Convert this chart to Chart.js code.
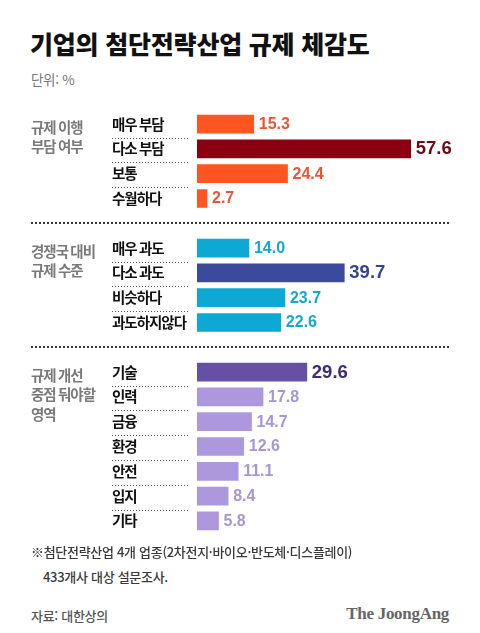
<!DOCTYPE html>
<html lang="ko">
<head>
<meta charset="utf-8">
<script src="https://cdn.jsdelivr.net/npm/chart.js@4"></script>
<style>
  html,body{margin:0;padding:0;background:#fff;}
  body{width:480px;height:633px;position:relative;overflow:hidden;font-family:"Noto Sans CJK KR","Noto Sans",sans-serif;}
  .t{position:absolute;white-space:nowrap;}
  #title{left:30px;top:27px;font-size:25px;line-height:32px;font-weight:900;color:#111;letter-spacing:-0.2px;}
  #unit{left:31px;top:70px;font-size:13.5px;line-height:18px;color:#777;letter-spacing:-0.3px;}
  #note1{left:31px;top:543px;font-size:13px;line-height:18px;color:#3a3a3a;letter-spacing:-0.3px;font-weight:500;}
  #note2{left:43px;top:568px;font-size:13px;line-height:18px;color:#3a3a3a;letter-spacing:-0.3px;font-weight:500;}
  #src{left:31px;top:607px;font-size:13px;line-height:18px;color:#555;letter-spacing:-0.3px;font-weight:500;}
  #logo{right:31px;top:604px;font-family:"Liberation Serif","DejaVu Serif",serif;font-weight:bold;font-size:17px;line-height:20px;color:#666;letter-spacing:-0.3px;}
  #wrap{position:absolute;left:0;top:100px;width:480px;height:445px;}
</style>
</head>
<body>
<div class="t" id="title">기업의 첨단전략산업 규제 체감도</div>
<div class="t" id="unit">단위: %</div>
<div id="wrap"><canvas id="c" width="480" height="445"></canvas></div>
<div class="t" id="note1">※첨단전략산업 4개 업종(2차전지·바이오·반도체·디스플레이)</div>
<div class="t" id="note2">433개사 대상 설문조사.</div>
<div class="t" id="src">자료: 대한상의</div>
<div class="t" id="logo">The JoongAng</div>
<script>
// ---- data ----
const burdenLabels = ['매우 부담', '다소 부담', '보통', '수월하다'];
const burdenValues = [15.3, 57.6, 24.4, 2.7];
const compareLabels = ['매우 과도', '다소 과도', '비슷하다', '과도하지않다'];
const compareValues = [14.0, 39.7, 23.7, 22.6];
const focusLabels = ['기술', '인력', '금융', '환경', '안전', '입지', '기타'];
const focusValues = [29.6, 17.8, 14.7, 12.6, 11.1, 8.4, 5.8];
const groupTitles = [['규제 이행', '부담 여부'], ['경쟁국 대비', '규제 수준'], ['규제 개선', '중점 둬야할', '영역']];
const highlightIndex = [1, 1, 0];

// ---- styles ----
const barColors = [
  {normal: '#ff5520', high: '#8a0010'},
  {normal: '#0ea8d4', high: '#3b4a9b'},
  {normal: '#ad98de', high: '#6650a6'}
];
const textColors = [
  {normal: '#ea5632', high: '#6e0a16'},
  {normal: '#17a6d0', high: '#34458f'},
  {normal: '#a796d6', high: '#3f2b78'}
];

// ---- build combined rows (with spacer rows between groups) ----
const groups = [
  {labels: burdenLabels, values: burdenValues},
  {labels: compareLabels, values: compareValues},
  {labels: focusLabels, values: focusValues}
];
const labels = [], values = [], bgColors = [], txtColors = [], isHigh = [], groupStart = [], gapRows = [];
groups.forEach((g, gi) => {
  if (gi > 0) { gapRows.push(labels.length); labels.push(''); values.push(null); bgColors.push('rgba(0,0,0,0)'); txtColors.push(null); isHigh.push(false); }
  groupStart.push(labels.length);
  g.labels.forEach((l, i) => {
    const h = i === highlightIndex[gi];
    labels.push(l); values.push(g.values[i]);
    bgColors.push(h ? barColors[gi].high : barColors[gi].normal);
    txtColors.push(h ? textColors[gi].high : textColors[gi].normal);
    isHigh.push(h);
  });
});

const decor = {
  id: 'decor',
  beforeDraw(chart) { chart.ctx.letterSpacing = '-1px'; },
  afterDatasetsDraw(chart) {
    const ctx = chart.ctx;
    ctx.save();
    ctx.letterSpacing = '0px';
    const meta = chart.getDatasetMeta(0);
    meta.data.forEach((bar, i) => {
      if (values[i] == null) return;
      ctx.font = 'bold ' + (isHigh[i] ? 18.5 : 16) + 'px "Liberation Sans", Arial, sans-serif';
      ctx.fillStyle = txtColors[i];
      ctx.textAlign = 'left';
      ctx.textBaseline = 'middle';
      ctx.fillText(values[i].toFixed(1), bar.x + 5, bar.y + 0.5);
    });
    ctx.restore();
  },
  afterDraw(chart) {
    const ctx = chart.ctx;
    const y = chart.scales.y;
    ctx.save();
    // short dotted separators between rows inside each group
    ctx.strokeStyle = '#555';
    ctx.lineWidth = 1;
    ctx.setLineDash([1, 2]);
    groups.forEach((g, gi) => {
      for (let k = 0; k < g.labels.length - 1; k++) {
        const i = groupStart[gi] + k;
        const yy = Math.round((y.getPixelForValue(i) + y.getPixelForValue(i + 1)) / 2 + 1) + 0.5;
        ctx.beginPath(); ctx.moveTo(112, yy); ctx.lineTo(190, yy); ctx.stroke();
      }
    });
    // long dotted separators between groups
    ctx.strokeStyle = '#3a3a3a';
    ctx.lineWidth = 2;
    ctx.setLineDash([2, 2]);
    gapRows.forEach(i => {
      const yy = Math.round(y.getPixelForValue(i));
      ctx.beginPath(); ctx.moveTo(31, yy); ctx.lineTo(449, yy); ctx.stroke();
    });
    // group titles
    ctx.setLineDash([]);
    ctx.letterSpacing = '-1px';
    ctx.font = 'bold 14.5px "Noto Sans CJK KR", sans-serif';
    ctx.fillStyle = '#7a7a7a';
    ctx.textAlign = 'left';
    ctx.textBaseline = 'middle';
    groupTitles.forEach((lines, gi) => {
      const y0 = y.getPixelForValue(groupStart[gi]) + 3;
      lines.forEach((ln, k) => ctx.fillText(ln, 31, y0 + k * 19.5));
    });
    ctx.restore();
    ctx.letterSpacing = '0px';
  }
};

new Chart(document.getElementById('c'), {
  type: 'bar',
  data: {
    labels: labels,
    datasets: [{data: values, backgroundColor: bgColors, borderWidth: 0, barThickness: 18}]
  },
  options: {
    indexAxis: 'y',
    responsive: false,
    animation: false,
    devicePixelRatio: 1,
    layout: {padding: {left: 112, right: 30.7, top: 9.5, bottom: 11.5}},
    plugins: {legend: {display: false}, tooltip: {enabled: false}},
    scales: {
      x: {display: false, min: 0, max: 68},
      y: {
        grid: {display: false},
        border: {display: false},
        afterFit(scale) { scale.width = 85; },
        ticks: {
          crossAlign: 'far',
          color: '#111',
          font: {family: '"Noto Sans CJK KR", sans-serif', size: 14.5, weight: 700},
          autoSkip: false
        }
      }
    }
  },
  plugins: [decor]
});
</script>
</body>
</html>
